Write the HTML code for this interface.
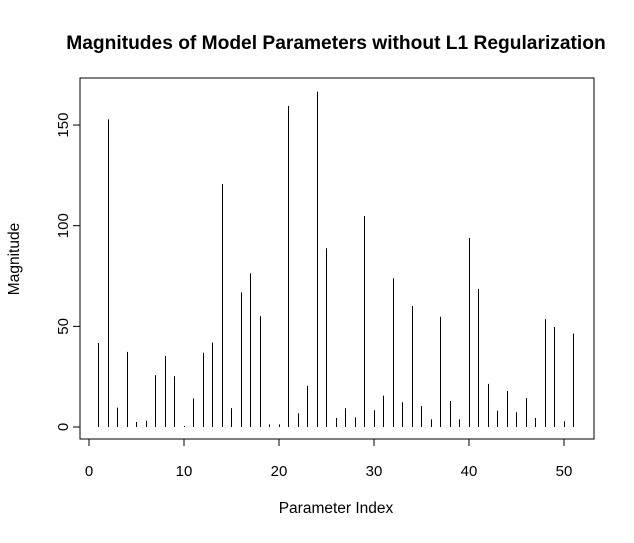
<!DOCTYPE html>
<html><head><meta charset="utf-8"><style>
body{margin:0;background:#fff;font-family:"Liberation Sans",Arial,sans-serif}
svg text{font-family:"Liberation Sans",Arial,sans-serif}
</style></head><body>
<svg id="chart" width="634" height="538" xmlns="http://www.w3.org/2000/svg">
<text x="336" y="49" text-anchor="middle" font-size="19.2" font-weight="bold">Magnitudes of Model Parameters without L1 Regularization</text>
<rect x="80" y="78" width="514" height="361" fill="none" stroke="#000" stroke-width="1"/>
<text x="336" y="513" text-anchor="middle" font-size="15.5">Parameter Index</text>
<text transform="translate(19,259) rotate(-90)" text-anchor="middle" font-size="15.5">Magnitude</text>
<g id="axes"></g>
<g id="bars"></g>
</svg>
<script>
const values=[41.7,152.8,9.6,37.3,2.5,3.1,25.8,35.3,25.3,0.5,14.2,36.9,41.9,120.7,9.4,66.9,76.3,55.1,1.3,1.3,159.5,6.8,20.4,166.6,88.8,4.5,9.3,4.8,104.8,8.3,15.6,73.9,12.3,60.1,10.4,3.8,54.8,12.9,3.8,93.9,68.6,21.4,8.1,17.9,7.3,14.4,4.5,53.6,49.7,2.8,46.4];
const xTicks=[0,10,20,30,40,50];
const yTicks=[0,50,100,150];
const NS="http://www.w3.org/2000/svg";
function xs(v){return 89+v*9.5;}
function ys(v){return 427-v*2.013;}
const axes=document.getElementById('axes'),bars=document.getElementById('bars');
function mk(t,a,p){const e=document.createElementNS(NS,t);for(const k in a)e.setAttribute(k,a[k]);p.appendChild(e);return e;}
mk('line',{x1:xs(0),x2:xs(50),y1:439,y2:439,stroke:'#000'},axes);
mk('line',{x1:80,x2:80,y1:ys(0),y2:ys(150),stroke:'#000'},axes);
xTicks.forEach(t=>{
 const l=mk('line',{x1:xs(t),x2:xs(t),y1:439,y2:446,stroke:'#000'},axes);
 
 
 const tx=mk('text',{x:xs(t),y:476,'text-anchor':'middle','font-size':15},axes);
 tx.textContent=t;
 
 
});
yTicks.forEach(t=>{
 const l=mk('line',{x1:73,x2:80,y1:ys(t),y2:ys(t),stroke:'#000'},axes);
 
 
 const tx=mk('text',{transform:'translate(68,'+ys(t)+') rotate(-90)','text-anchor':'middle','font-size':15},axes);
 tx.textContent=t;
 
 
});
values.forEach((v,i)=>{
 const x=Math.floor(xs(i+1))+0.5;
 const b=mk('line',{x1:x,x2:x,y1:ys(0),y2:ys(v),stroke:'#000','stroke-width':1},bars);
 
 
});
</script>
</body></html>
